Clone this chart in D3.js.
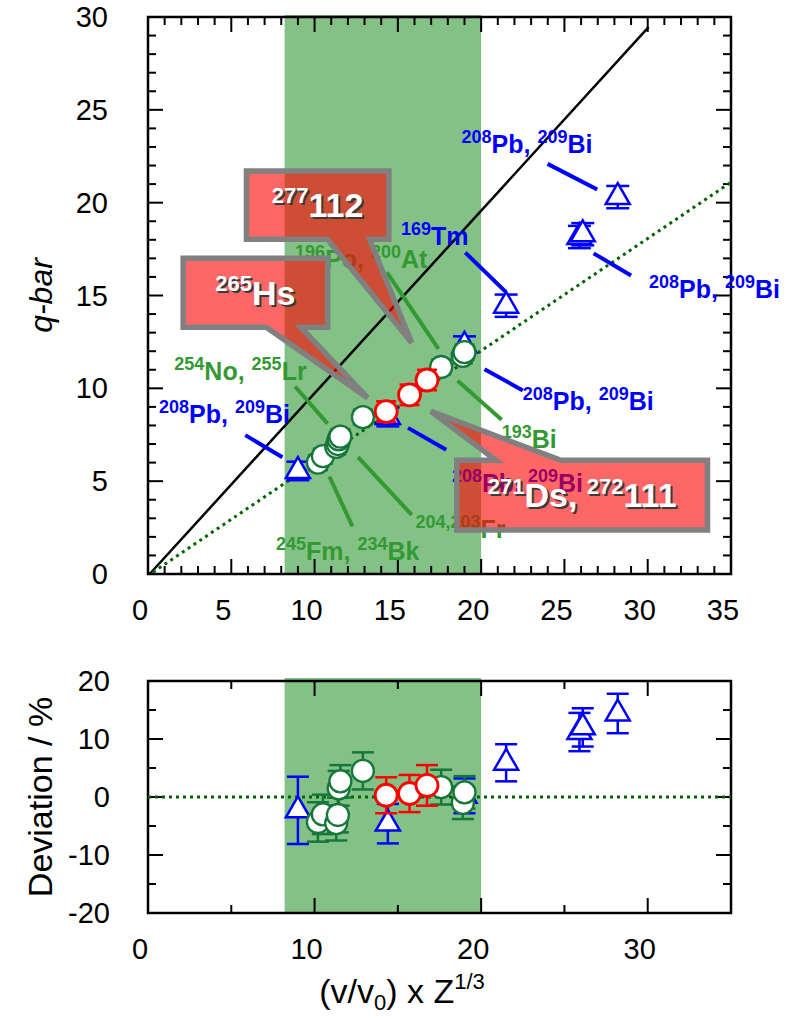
<!DOCTYPE html>
<html>
<head>
<meta charset="utf-8">
<script src="https://cdn.jsdelivr.net/npm/d3@7/dist/d3.min.js"></script>
<style>
  body { margin: 0; background: #fff; }
  svg { display: block; font-family: "Liberation Sans", Arial, sans-serif; }
</style>
</head>
<body>
<div id="chart"></div>
<script>
// ---- data ----
// 208Pb / 209Bi / 169Tm reference measurements (blue triangles)
const blueX      = [9.0, 14.4, 19.0, 21.5, 25.9, 26.1, 28.2];
const blueQ      = [5.55, 8.45, 12.3, 14.45, 18.15, 18.3, 20.3];
const blueQErr   = [0.5, 0.5, 0.5, 0.6, 0.6, 0.6, 0.6];
const blueDev    = [-2.3, -4.6, 0.2, 5.9, 11.2, 12.0, 14.4];
const blueDevErr = [5.8, 3.4, 3.0, 3.2, 3.3, 3.3, 3.4];

// actinide / light-ion data (green circles)
const greenX      = [10.2, 10.5, 11.3, 11.4, 11.45, 11.55, 12.9, 17.6, 18.9, 19.0];
const greenQ      = [6.0, 6.35, 6.85, 7.0, 7.25, 7.4, 8.45, 11.15, 11.75, 11.95];
const greenQErr   = [0.4, 0.4, 0.4, 0.4, 0.4, 0.4, 0.4, 0.4, 0.4, 0.4];
const greenDev    = [-4.3, -3.0, -4.5, -3.1, 1.5, 2.7, 4.5, 1.7, -1.0, 0.8];
const greenDevErr = [3.4, 3.4, 3.0, 3.0, 3.0, 2.8, 3.2, 3.0, 2.8, 2.8];

// superheavy elements (red circles)
const redX      = [14.3, 15.7, 16.75];
const redQ      = [8.75, 9.65, 10.45];
const redQErr   = [0.55, 0.55, 0.55];
const redDev    = [0.3, 0.6, 2.0];
const redDevErr = [3.1, 3.2, 3.5];

// lines: solid diagonal, dotted fit
const diagLine = [[0.1, 0], [30.05, 29.45]];
const fitLine  = [[0.3, 0.1], [35, 21.1]];
const devZero  = [[0, 0], [35, 0]];

// shaded region
const bandRange = [8.2, 20.0];

// tick values
const topXTicks = [0, 5, 10, 15, 20, 25, 30, 35];
const topYTicks = [0, 5, 10, 15, 20, 25, 30];
const botXTicks = [0, 10, 20, 30];
const botYTicks = [-20, -10, 0, 10, 20];

// labels with leader lines (data coords)
const blueNotes = [
  { parts: [["208", 1], ["Pb, ", 0], ["209", 1], ["Bi", 0]], at: [18.82, 22.67], line: [[23.99, 22.09], [26.97, 20.71]] },
  { parts: [["169", 1], ["Tm", 0]], at: [15.19, 17.72], line: [[19.05, 17.31], [21.46, 15.21]] },
  { parts: [["208", 1], ["Pb, ", 0], ["209", 1], ["Bi", 0]], at: [30.08, 14.87], line: [[26.75, 17.27], [29.0, 16.08]] },
  { parts: [["208", 1], ["Pb, ", 0], ["209", 1], ["Bi", 0]], at: [22.5, 8.83], line: [[20.2, 11.03], [22.5, 9.89]] },
  { parts: [["208", 1], ["Pb, ", 0], ["209", 1], ["Bi", 0]], at: [0.66, 8.13], line: [[5.84, 7.48], [8.07, 6.29]] },
  { parts: [["208", 1], ["Pb, ", 0], ["209", 1], ["Bi", 0]], at: [18.25, 4.42], line: [[15.61, 7.87], [17.9, 6.69]] }
];
const greenNotes = [
  { parts: [["196", 1], ["Po, ", 0], ["200", 1], ["At", 0]], at: [8.83, 16.48], line: [[14.34, 16.24], [17.44, 12.12]] },
  { parts: [["254", 1], ["No, ", 0], ["255", 1], ["Lr", 0]], at: [1.58, 10.45], line: [[8.83, 10.1], [10.78, 8.1]] },
  { parts: [["193", 1], ["Bi", 0]], at: [21.23, 6.79], line: [[18.59, 10.41], [21.23, 8.31]] },
  { parts: [["204,203", 1], ["Fr", 0]], at: [16.06, 1.94], line: [[12.61, 6.29], [15.83, 3.19]] },
  { parts: [["245", 1], ["Fm, ", 0], ["234", 1], ["Bk", 0]], at: [7.68, 0.75], line: [[10.89, 5.25], [12.27, 2.57]] }
];
const callouts = [
  { parts: [["277", 1], ["112", 0]], box: [5.91, 21.71, 14.46, 18.03], side: "bottom", base: [10.77, 13.3], tip: [15.83, 12.45] },
  { parts: [["265", 1], ["Hs", 0]], box: [2.11, 17.0, 10.78, 13.29], side: "bottom", base: [7.1, 9.17], tip: [13.19, 9.48] },
  { parts: [["271", 1], ["Ds, ", 0], ["272", 1], ["111", 0]], box: [18.54, 6.12, 33.59, 2.37], side: "top", base: [20.89, 24.79], tip: [16.98, 8.76] }
];

// ---- layout ----
const width = 787, height = 1019;
const svg = d3.select("#chart").append("svg")
  .attr("width", width).attr("height", height);

const x = d3.scaleLinear().domain([0, 35]).range([148, 731]);
const yTop = d3.scaleLinear().domain([0, 30]).range([574, 17]);
const yBot = d3.scaleLinear().domain([-20, 20]).range([913, 681]);

const BLUE = "#0000ff", GREEN_TXT = "#339933", GREEN_MK = "#15773a", RED = "#ff0000";

// draws text made of normal + superscript pieces
function richText(sel, px, py, parts, size, supSize, fill, anchor) {
  const t = sel.append("text")
    .attr("x", px).attr("y", py)
    .attr("fill", fill)
    .attr("font-weight", "bold")
    .attr("text-anchor", anchor || "start")
    .attr("font-size", size);
  let raised = false;
  parts.forEach(([s, sup]) => {
    const sp = t.append("tspan").text(s);
    if (sup) {
      sp.attr("font-size", supSize);
      if (!raised) { sp.attr("dy", -size * 0.4); raised = true; }
    } else if (raised) { sp.attr("dy", size * 0.4); raised = false; }
  });
  return t;
}

function drawFrame(g, y, xMinor, xMajor, yMinor, yMajor) {
  const [x0, x1] = x.range();
  const [y0, y1] = y.range(); // bottom, top
  const ticks = g.append("g").attr("stroke", "#000").attr("stroke-width", 2);
  d3.range(x.domain()[0], x.domain()[1] + 0.001, xMinor).forEach(v => {
    const len = Math.abs(v % xMajor) < 1e-6 ? 15 : 8;
    ticks.append("line").attr("x1", x(v)).attr("x2", x(v)).attr("y1", y0).attr("y2", y0 - len);
    ticks.append("line").attr("x1", x(v)).attr("x2", x(v)).attr("y1", y1).attr("y2", y1 + len);
  });
  d3.range(y.domain()[0], y.domain()[1] + 0.001, yMinor).forEach(v => {
    const len = Math.abs(v % yMajor) < 1e-6 ? 15 : 8;
    ticks.append("line").attr("y1", y(v)).attr("y2", y(v)).attr("x1", x0).attr("x2", x0 + len);
    ticks.append("line").attr("y1", y(v)).attr("y2", y(v)).attr("x1", x1).attr("x2", x1 - len);
  });
  g.append("rect")
    .attr("x", x0).attr("y", y1)
    .attr("width", x1 - x0).attr("height", y0 - y1)
    .attr("fill", "none").attr("stroke", "#000").attr("stroke-width", 2.5);
}

function errorBars(g, xs, ys, errs, y, color, cap) {
  xs.forEach((xv, i) => {
    const lo = y(ys[i] - errs[i]), hi = y(ys[i] + errs[i]);
    g.append("line").attr("x1", x(xv)).attr("x2", x(xv)).attr("y1", lo).attr("y2", hi)
      .attr("stroke", color).attr("stroke-width", 2.5);
    [lo, hi].forEach(yy => g.append("line")
      .attr("x1", x(xv) - cap / 2).attr("x2", x(xv) + cap / 2)
      .attr("y1", yy).attr("y2", yy)
      .attr("stroke", color).attr("stroke-width", 2.5));
  });
}

const tri = d3.symbol().type(d3.symbolTriangle).size(250);

function triangles(g, xs, ys, y) {
  g.selectAll(null).data(xs).join("path")
    .attr("d", tri)
    .attr("transform", (d, i) => `translate(${x(d)},${y(ys[i])})`)
    .attr("fill", "#fff").attr("stroke", BLUE).attr("stroke-width", 2.5);
}
function circles(g, xs, ys, y, color, sw) {
  g.selectAll(null).data(xs).join("circle")
    .attr("cx", d => x(d)).attr("cy", (d, i) => y(ys[i]))
    .attr("r", 11)
    .attr("fill", "#fff").attr("stroke", color).attr("stroke-width", sw || 2.3);
}

const line = (y) => d3.line().x(d => x(d[0])).y(d => y(d[1]));

// ================= top panel =================
const topG = svg.append("g");
topG.append("rect")
  .attr("x", x(bandRange[0])).attr("y", yTop(30) - 2)
  .attr("width", x(bandRange[1]) - x(bandRange[0]))
  .attr("height", yTop(0) - yTop(30) + 2)
  .attr("fill", "#84c186");

drawFrame(topG, yTop, 1, 5, 1, 5);

topG.append("path").attr("d", line(yTop)(diagLine))
  .attr("stroke", "#000").attr("stroke-width", 2.5).attr("fill", "none");
topG.append("path").attr("d", line(yTop)(fitLine))
  .attr("stroke", "#006400").attr("stroke-width", 3).attr("stroke-dasharray", "3,4").attr("fill", "none");

// leader lines and labels
blueNotes.forEach(n => {
  topG.append("path").attr("d", line(yTop)(n.line)).attr("stroke", BLUE).attr("stroke-width", 4);
  richText(topG, x(n.at[0]), yTop(n.at[1]), n.parts, 25, 18, BLUE);
});
greenNotes.forEach(n => {
  topG.append("path").attr("d", line(yTop)(n.line)).attr("stroke", GREEN_TXT).attr("stroke-width", 4);
  richText(topG, x(n.at[0]), yTop(n.at[1]), n.parts, 25, 18, GREEN_TXT);
});

// data marks
errorBars(topG, blueX, blueQ, blueQErr, yTop, BLUE, 23);
triangles(topG, blueX, blueQ, yTop);
errorBars(topG, greenX, greenQ, greenQErr, yTop, GREEN_MK, 20);
circles(topG, greenX, greenQ, yTop, GREEN_MK);
errorBars(topG, redX, redQ, redQErr, yTop, RED, 20);
circles(topG, redX, redQ, yTop, RED, 2.8);

// callouts
callouts.forEach(c => {
  const [bx0, by0, bx1, by1] = c.box;
  let pts;
  if (c.side === "bottom") {
    pts = [[bx0, by0], [bx1, by0], [bx1, by1], [c.base[1], by1], c.tip, [c.base[0], by1], [bx0, by1]];
  } else {
    pts = [[bx0, by0], [c.base[0], by0], c.tip, [c.base[1], by0], [bx1, by0], [bx1, by1], [bx0, by1]];
  }
  topG.append("path")
    .attr("d", line(yTop)(pts) + "Z")
    .attr("fill", "rgba(255,0,0,0.6)")
    .attr("stroke", "#808080").attr("stroke-width", 5.5)
    .attr("stroke-linejoin", "miter");
  const cx = (x(bx0) + x(bx1)) / 2, cy = (yTop(by0) + yTop(by1)) / 2 + 12;
  richText(topG, cx + 2, cy + 2, c.parts, 34, 22, "#3a3a3a", "middle");
  richText(topG, cx, cy, c.parts, 34, 22, "#fff", "middle");
});

// axis labels
const tickFont = 29;
topXTicks.forEach(v => topG.append("text").attr("x", x(v) - 8).attr("y", 620)
  .attr("text-anchor", "middle").attr("font-size", tickFont).text(v));
topYTicks.forEach(v => topG.append("text").attr("x", 108).attr("y", yTop(v) + 10)
  .attr("text-anchor", "end").attr("font-size", tickFont).text(v));
topG.append("text")
  .attr("transform", `translate(52,${yTop(15)}) rotate(-90)`)
  .attr("text-anchor", "middle").attr("font-size", 32).attr("font-style", "italic")
  .text("q-bar");

// ================= bottom panel =================
const botG = svg.append("g");
botG.append("rect")
  .attr("x", x(bandRange[0])).attr("y", yBot(20) - 3)
  .attr("width", x(bandRange[1]) - x(bandRange[0]))
  .attr("height", yBot(-20) - yBot(20) + 3)
  .attr("fill", "#84c186");

drawFrame(botG, yBot, 5, 10, 5, 10);

botG.append("path").attr("d", line(yBot)(devZero))
  .attr("stroke", "#006400").attr("stroke-width", 3).attr("stroke-dasharray", "3,4").attr("fill", "none");

errorBars(botG, blueX, blueDev, blueDevErr, yBot, BLUE, 22);
triangles(botG, blueX, blueDev, yBot);
errorBars(botG, greenX, greenDev, greenDevErr, yBot, GREEN_MK, 22);
circles(botG, greenX, greenDev, yBot, GREEN_MK);
errorBars(botG, redX, redDev, redDevErr, yBot, RED, 22);
circles(botG, redX, redDev, yBot, RED, 2.8);

botXTicks.forEach(v => botG.append("text").attr("x", x(v) - 8).attr("y", 959)
  .attr("text-anchor", "middle").attr("font-size", tickFont).text(v));
botYTicks.forEach(v => botG.append("text").attr("x", 110).attr("y", yBot(v) + 10)
  .attr("text-anchor", "end").attr("font-size", tickFont).text(v));

botG.append("text")
  .attr("transform", `translate(52,${yBot(0)}) rotate(-90)`)
  .attr("text-anchor", "middle").attr("font-size", 34)
  .text("Deviation / %");

const xt = botG.append("text").attr("x", 402).attr("y", 1003)
  .attr("text-anchor", "middle").attr("font-size", 34);
xt.append("tspan").text("(v/v");
xt.append("tspan").attr("font-size", 22).attr("dy", 7).text("0");
xt.append("tspan").attr("dy", -7).text(") x Z");
xt.append("tspan").attr("font-size", 22).attr("dy", -14).text("1/3");
</script>
</body>
</html>
